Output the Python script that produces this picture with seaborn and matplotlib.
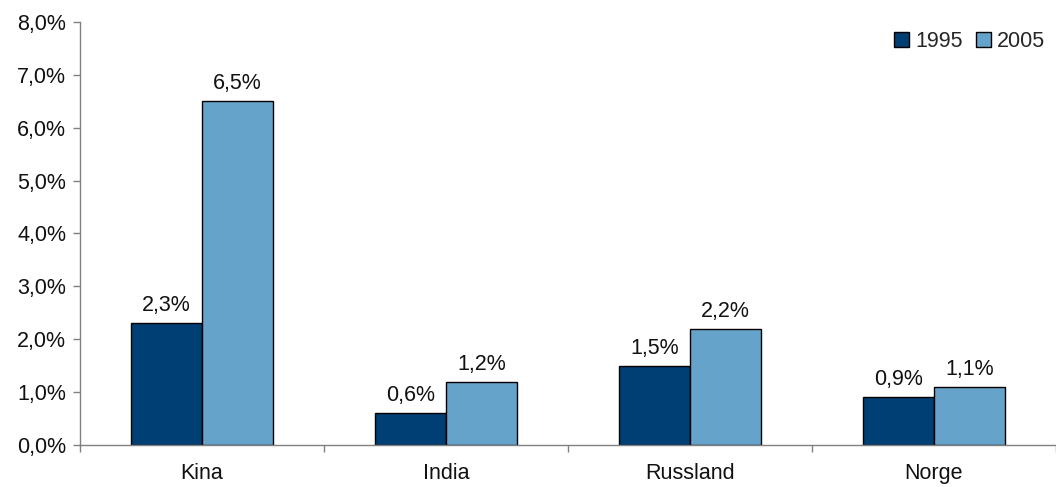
import matplotlib
matplotlib.use("Agg")
import matplotlib.pyplot as plt
from matplotlib.ticker import FuncFormatter, FixedLocator
import seaborn as sns
import pandas as pd

# Andel av verdens BNP (prosent)
land = ["Kina", "India", "Russland", "Norge"]
aar = ["1995", "2005"]
verdier_1995 = [2.3, 0.6, 1.5, 0.9]
verdier_2005 = [6.5, 1.2, 2.2, 1.1]
farger = ["#003F74", "#66A3CB"]

df = pd.DataFrame({
    "land": land * 2,
    "år": [aar[0]] * len(land) + [aar[1]] * len(land),
    "andel": verdier_1995 + verdier_2005,
})

sns.set_theme(style="white")
plt.rcParams["font.family"] = ["Liberation Sans", "DejaVu Sans"]

FS = 15.5

fig = plt.figure(figsize=(10.56, 4.87), dpi=100)
ax = fig.add_axes([80 / 1056, 42 / 487, 976 / 1056, 423 / 487])

sns.barplot(data=df, x="land", y="andel", hue="år", palette=farger,
            saturation=1, edgecolor="black", linewidth=1.0, width=0.58,
            gap=0, errorbar=None, ax=ax)

def komma(v, decimals=1):
    return f"{v:.{decimals}f}".replace(".", ",") + "%"

for container, verdier in zip(ax.containers, [verdier_1995, verdier_2005]):
    ax.bar_label(container, labels=[komma(v) for v in verdier],
                 padding=5, fontsize=FS, color="#111111")

ax.set_ylim(0, 8)
ax.set_xlim(-0.5, 3.5)
ax.yaxis.set_major_locator(FixedLocator([0, 1, 2, 3, 4, 5, 6, 7, 8]))
ax.yaxis.set_major_formatter(FuncFormatter(lambda v, p: komma(v)))
ax.set_xticks(range(len(land)))
ax.set_xticklabels(land)
ax.xaxis.set_minor_locator(FixedLocator([-0.5, 0.5, 1.5, 2.5, 3.5]))

ax.set_xlabel("")
ax.set_ylabel("")
for side in ["top", "right"]:
    ax.spines[side].set_visible(False)
for side in ["left", "bottom"]:
    ax.spines[side].set_color("#808080")
    ax.spines[side].set_linewidth(1.0)

ax.tick_params(axis="y", which="major", left=True, length=5, width=1,
               color="#808080", labelsize=FS, pad=5, labelcolor="#111111")
ax.tick_params(axis="x", which="major", bottom=False, labelsize=FS, pad=7,
               labelcolor="#111111")
ax.tick_params(axis="x", which="minor", bottom=True, length=5, width=1,
               color="#808080")

leg = ax.legend(loc="upper right", bbox_to_anchor=(1.0, 1.005), frameon=False,
                fontsize=FS, handlelength=0.7, handleheight=0.7,
                handletextpad=0.3, columnspacing=0.6, ncol=2, borderaxespad=0.1)
for h in leg.legend_handles:
    h.set_edgecolor("black")
    h.set_linewidth(1.0)

fig.savefig("out.png", dpi=100)
